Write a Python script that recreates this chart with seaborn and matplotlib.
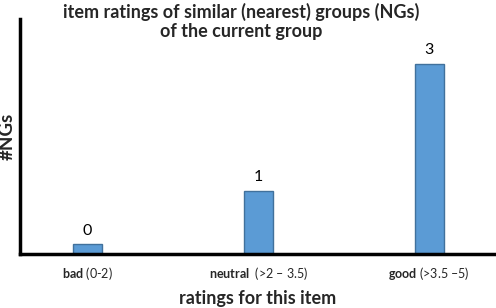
import matplotlib
matplotlib.use("Agg")
import matplotlib.pyplot as plt
import pandas as pd
import seaborn as sns

# data
categories = ["bad", "neutral", "good"]
ranges = ["(0-2)", " (>2 \u2013 3.5)", "(>3.5 \u20135)"]
counts = [0, 1, 3]
# drawn heights (the empty category still gets a small stub)
bar_heights = [0.15, 1, 3]

sns.set_style("white")
plt.rcParams["font.family"] = ["Lato", "DejaVu Sans"]
plt.rcParams["mathtext.fontset"] = "custom"
plt.rcParams["mathtext.bf"] = "Lato:bold"
plt.rcParams["mathtext.rm"] = "Lato"

df = pd.DataFrame({"cat": categories, "h": bar_heights})

fig = plt.figure(figsize=(4.96, 3.08), dpi=100)
ax = fig.add_axes([20 / 496, 54 / 308, 476 / 496, 235 / 308])

sns.barplot(data=df, x="cat", y="h", ax=ax, color="#5B9BD5", saturation=1,
            width=0.17, edgecolor="#41719C", linewidth=1)

ax.bar_label(ax.containers[0], labels=[str(c) for c in counts],
             padding=5, fontsize=11.5, color="black")

ax.set_xlim(-0.395, 2.39)
ax.set_ylim(0, 3.71)
ax.set_yticks([])
ax.set_xticks(range(len(categories)))
ax.set_xticklabels(["$\\bf{" + c + "}$ " + r for c, r in zip(categories, ranges)],
                   fontsize=9)
ax.tick_params(axis="x", length=0, pad=8)

for side in ["top", "right"]:
    ax.spines[side].set_visible(False)
for side in ["left", "bottom"]:
    ax.spines[side].set_linewidth(2.5)
    ax.spines[side].set_color("black")

ax.set_xlabel("ratings for this item", fontsize=13, fontweight="bold", labelpad=6)
ax.set_ylabel("#NGs", fontsize=13.5, fontweight="bold", labelpad=3)

fig.text(241 / 496, 1 - 21 / 308,
         "item ratings of similar (nearest) groups (NGs)\nof the current group",
         ha="center", va="center", fontsize=13, fontweight="bold", linespacing=1.15)

fig.savefig("out.png", dpi=100)
